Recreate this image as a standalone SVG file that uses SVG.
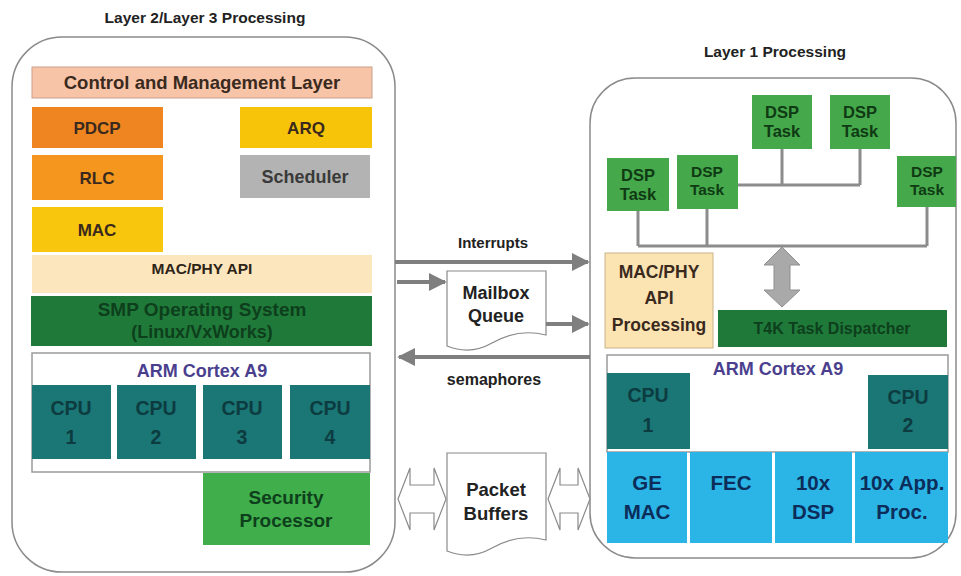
<svg xmlns="http://www.w3.org/2000/svg" width="961" height="576" viewBox="0 0 961 576">
<defs>
<style>
text{font-family:"Liberation Sans",Arial,sans-serif;font-weight:bold;text-anchor:middle}
.title{font-size:15.5px;fill:#222}
.cont{fill:#fff;stroke:#8a8a8a;stroke-width:1.5}
.lbl{font-size:17px;fill:#3a2a1e}
.grn{fill:#1f7a3a}
.grnt{fill:#0e3f1c}
.cpu{fill:#1b7676}
.cput{font-size:19.5px;fill:#0c3c40}
.dsp{fill:#45a84a}
.dspt{font-size:16.5px;fill:#0f3a14}
.dspt2{font-size:15.5px;fill:#0f3a14}
.blue{fill:#2bb5e6}
.bluet{font-size:20.5px;fill:#0c2c5a}
.arm{font-size:18px;fill:#4a3f8e}
.conn{stroke:#7f7f7f;stroke-width:4;fill:none}
.bus{stroke:#8c8c8c;stroke-width:3;fill:none}
.doc{fill:#fff;stroke:#8a8a8a;stroke-width:1.2}
.hollow{fill:#fff;stroke:#8a8a8a;stroke-width:1.2}
.mid{font-size:15px;fill:#222}
</style>
<marker id="ah" viewBox="0 0 10 10" refX="9" refY="5" markerWidth="4.5" markerHeight="5" orient="auto" markerUnits="strokeWidth"><path d="M0,0 L10,5 L0,10 Z" fill="#7f7f7f"/></marker>
</defs>
<rect width="961" height="576" fill="#fff"/>

<text class="title" x="205" y="23">Layer 2/Layer 3 Processing</text>
<text class="title" x="775" y="57">Layer 1 Processing</text>

<g id="l23-container"><rect class="cont" x="12" y="37" width="383" height="535" rx="50"/></g>
<g id="l1-container"><rect class="cont" x="590" y="78" width="366" height="480" rx="45"/></g>

<g id="control"><rect x="32" y="67" width="340" height="31" fill="#f8c4a8" stroke="#c9a08a" stroke-width="1"/><text x="202" y="89" style="font-size:18.5px;fill:#3a2a1e">Control and Management Layer</text></g>
<g id="pdcp"><rect x="32" y="107" width="131" height="41" fill="#ef8520"/><text class="lbl" x="97" y="134">PDCP</text></g>
<g id="rlc"><rect x="32" y="155" width="131" height="45" fill="#f5961f"/><text class="lbl" x="97" y="184">RLC</text></g>
<g id="mac"><rect x="32" y="207" width="131" height="45" fill="#f8c60c"/><text class="lbl" x="97" y="236">MAC</text></g>
<g id="arq"><rect x="240" y="107" width="132" height="41" fill="#f8c40a"/><text class="lbl" x="306" y="134">ARQ</text></g>
<g id="scheduler"><rect x="240" y="155" width="130" height="43" fill="#b3b3b3"/><text x="305" y="183" style="font-size:18px;fill:#3a3a3a">Scheduler</text></g>
<g id="macphy-api"><rect x="32" y="255" width="340" height="38" fill="#fbe6bd"/><text x="202" y="274" style="font-size:15.5px;fill:#2e2418">MAC/PHY API</text></g>
<g id="smp-os"><rect class="grn" x="31" y="296" width="341" height="50"/><text class="grnt" x="202" y="316" style="font-size:19px">SMP Operating System</text><text class="grnt" x="202" y="338" style="font-size:18px">(Linux/VxWorks)</text></g>
<g id="arm-left"><rect x="32" y="353" width="338" height="119" fill="#fff" stroke="#9a9a9a" stroke-width="1.5"/><text class="arm" x="202" y="377">ARM Cortex A9</text></g>
<g id="cpu1-l"><rect class="cpu" x="32" y="385" width="79" height="74"/><text class="cput" x="71" y="415">CPU</text><text class="cput" x="71" y="444">1</text></g>
<g id="cpu2-l"><rect class="cpu" x="117" y="385" width="79" height="74"/><text class="cput" x="156" y="415">CPU</text><text class="cput" x="156" y="444">2</text></g>
<g id="cpu3-l"><rect class="cpu" x="203" y="385" width="79" height="74"/><text class="cput" x="242" y="415">CPU</text><text class="cput" x="242" y="444">3</text></g>
<g id="cpu4-l"><rect class="cpu" x="290" y="385" width="80" height="74"/><text class="cput" x="330" y="415">CPU</text><text class="cput" x="330" y="444">4</text></g>
<g id="security"><rect x="203" y="473" width="167" height="72" fill="#3fae4b"/><text class="grnt" x="286" y="504" style="font-size:19px">Security</text><text class="grnt" x="286" y="527" style="font-size:19px">Processor</text></g>

<g id="mailbox"><path class="doc" d="M447,271 H546 V335 C522,329 504,336 492,343 C478,351 462,352 447,346 Z"/><text class="mid" x="496" y="299" style="font-size:18px">Mailbox</text><text class="mid" x="496" y="322" style="font-size:18px">Queue</text></g>
<g id="packet-buffers"><path class="doc" d="M447,453 H546 V540 C522,534 504,541 492,548 C478,556 462,557 447,551 Z"/><text class="mid" x="496" y="496" style="font-size:18.5px">Packet</text><text class="mid" x="496" y="520" style="font-size:18.5px">Buffers</text></g>

<g id="dsp1"><rect class="dsp" x="607" y="158" width="62" height="53"/><text class="dspt" x="638" y="181">DSP</text><text class="dspt" x="638" y="200">Task</text></g>
<g id="dsp2"><rect class="dsp" x="677" y="155" width="61" height="54"/><text class="dspt2" x="707" y="177">DSP</text><text class="dspt2" x="707" y="195">Task</text></g>
<g id="dsp3"><rect class="dsp" x="752" y="95" width="60" height="54"/><text class="dspt" x="782" y="118">DSP</text><text class="dspt" x="782" y="137">Task</text></g>
<g id="dsp4"><rect class="dsp" x="830" y="95" width="60" height="54"/><text class="dspt" x="860" y="118">DSP</text><text class="dspt" x="860" y="137">Task</text></g>
<g id="dsp5"><rect class="dsp" x="897" y="156" width="59" height="51"/><text class="dspt2" x="927" y="177">DSP</text><text class="dspt2" x="927" y="195">Task</text></g>

<g id="macphy-proc"><rect x="605" y="253" width="108" height="95" fill="#fbe3b2" stroke="#c8b48a" stroke-width="1"/><text x="659" y="278" style="font-size:17.5px;fill:#3a2a1e">MAC/PHY</text><text x="659" y="304" style="font-size:17.5px;fill:#3a2a1e">API</text><text x="659" y="331" style="font-size:17.5px;fill:#3a2a1e">Processing</text></g>
<g id="t4k"><rect class="grn" x="718" y="310" width="229" height="37"/><text class="grnt" x="832" y="334" style="font-size:16px">T4K Task Dispatcher</text></g>
<g id="arm-right"><rect x="607" y="355" width="341" height="97" fill="#fff" stroke="#9a9a9a" stroke-width="1.5"/><text class="arm" x="778" y="375">ARM Cortex A9</text></g>
<g id="cpu1-r"><rect class="cpu" x="607" y="373" width="83" height="76"/><text class="cput" x="648" y="402">CPU</text><text class="cput" x="648" y="432">1</text></g>
<g id="cpu2-r"><rect class="cpu" x="868" y="375" width="80" height="74"/><text class="cput" x="908" y="404">CPU</text><text class="cput" x="908" y="432">2</text></g>
<g id="ge-mac"><rect class="blue" x="607" y="452" width="80" height="91"/><text class="bluet" x="647" y="490">GE</text><text class="bluet" x="647" y="519">MAC</text></g>
<g id="fec"><rect class="blue" x="690" y="452" width="82" height="91"/><text class="bluet" x="731" y="490">FEC</text></g>
<g id="dsp10"><rect class="blue" x="775" y="452" width="77" height="91"/><text class="bluet" x="813" y="490">10x</text><text class="bluet" x="813" y="519">DSP</text></g>
<g id="app10"><rect class="blue" x="855" y="452" width="93" height="91"/><text class="bluet" x="902" y="490">10x App.</text><text class="bluet" x="902" y="519">Proc.</text></g>

<g id="connectors">
<line class="conn" x1="395" y1="262" x2="588" y2="262" marker-end="url(#ah)"/>
<text class="mid" x="493" y="248">Interrupts</text>
<line class="conn" x1="397" y1="282" x2="445" y2="282" marker-end="url(#ah)"/>
<line class="conn" x1="546" y1="324" x2="588" y2="324" marker-end="url(#ah)"/>
<line class="conn" x1="590" y1="357" x2="399" y2="357" marker-end="url(#ah)"/>
<text class="mid" x="494" y="385" style="font-size:16px">semaphores</text>
<polygon class="hollow" points="398,499 410,468 410,485 434,485 434,468 446,499 434,530 434,513 410,513 410,530"/>
<polygon class="hollow" points="548,499 560,468 560,485 578,485 578,468 590,499 578,530 578,513 560,513 560,530"/>
<path class="bus" d="M782,149 V185 M860,149 V185 M738,185 H860"/>
<path class="bus" d="M638,211 V246 M707,209 V246 M927,207 V246 M638,246 H927"/>
<polygon points="782,247 800,265 790,265 790,290 800,290 782,307 764,290 774,290 774,265 764,265" fill="#a9a9a9" stroke="#8f8f8f" stroke-width="1"/>
</g>
</svg>
